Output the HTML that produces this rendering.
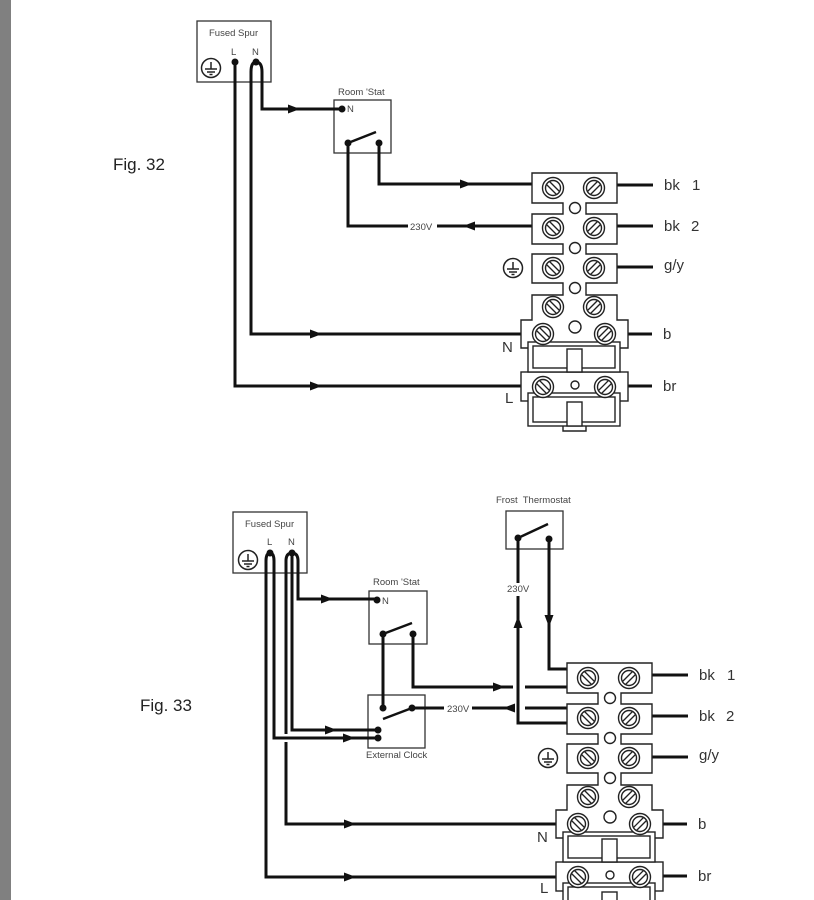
<!DOCTYPE html>
<html><head><meta charset="utf-8"><style>
html,body{margin:0;padding:0;background:#fff;}
svg{display:block}
text{font-family:"Liberation Sans",sans-serif;fill:#333}
.s{font-size:9.5px;fill:#444}
.b{font-size:15px;fill:#333}
.w{fill:none;stroke:#111;stroke-width:3;stroke-linejoin:miter}
.o{fill:#fff;stroke:#222;stroke-width:1.4}
.bx{fill:none;stroke:#333;stroke-width:1.3}
</style></head><body>
<svg width="814" height="900" viewBox="0 0 814 900" xmlns="http://www.w3.org/2000/svg">
<defs>
  <g id="scL">
    <circle r="10.5" fill="#fff" stroke="#222" stroke-width="1.4"/>
    <circle r="7.5" fill="none" stroke="#222" stroke-width="1.4"/>
    <line x1="-6.5" y1="-3.5" x2="3.5" y2="6.5" stroke="#222" stroke-width="1.3"/>
    <line x1="-3.5" y1="-6.5" x2="6.5" y2="3.5" stroke="#222" stroke-width="1.3"/>
  </g>
  <g id="scR">
    <circle r="10.5" fill="#fff" stroke="#222" stroke-width="1.4"/>
    <circle r="7.5" fill="none" stroke="#222" stroke-width="1.4"/>
    <line x1="6.5" y1="-3.5" x2="-3.5" y2="6.5" stroke="#222" stroke-width="1.3"/>
    <line x1="3.5" y1="-6.5" x2="-6.5" y2="3.5" stroke="#222" stroke-width="1.3"/>
  </g>
  <g id="earth">
    <circle r="9.5" fill="#fff" stroke="#222" stroke-width="1.5"/>
    <line x1="0" y1="-6" x2="0" y2="1" stroke="#222" stroke-width="1.5"/>
    <line x1="-6" y1="1" x2="6" y2="1" stroke="#222" stroke-width="1.5"/>
    <line x1="-4" y1="4" x2="4" y2="4" stroke="#222" stroke-width="1.5"/>
    <line x1="-1.5" y1="6.5" x2="1.5" y2="6.5" stroke="#222" stroke-width="1.5"/>
  </g>
  <g id="tb">
    <path class="w" d="M617,185 H653 M617,226 H653 M617,267 H653 M628,334 H652 M628,386 H652"/>
    <path class="o" d="M532,173 H617 V203 H586 V214 H617 V244 H586 V254 H617 V283 H586 V295 H617 V320 H628 V348 H521 V320 H532 V295 H563 V283 H532 V254 H563 V244 H532 V214 H563 V203 H532 Z"/>
    <rect class="o" x="521" y="372" width="107" height="29"/>
    <rect class="o" x="528" y="342" width="92" height="30"/>
    <rect class="o" x="533" y="346" width="82" height="22"/>
    <rect class="o" x="567" y="349" width="15" height="23"/>
    <path class="o" d="M563,424 V431 H586 V424"/>
    <rect class="o" x="528" y="393" width="92" height="33"/>
    <rect class="o" x="533" y="397" width="82" height="25"/>
    <rect class="o" x="567" y="402" width="15" height="24"/>
    <circle class="o" cx="575" cy="208" r="5.5"/>
    <circle class="o" cx="575" cy="248" r="5.5"/>
    <circle class="o" cx="575" cy="288" r="5.5"/>
    <circle class="o" cx="575" cy="327" r="6"/>
    <circle class="o" cx="575" cy="385" r="4"/>
    <use href="#scL" x="553" y="188"/><use href="#scR" x="594" y="188"/>
    <use href="#scL" x="553" y="228"/><use href="#scR" x="594" y="228"/>
    <use href="#scL" x="553" y="268"/><use href="#scR" x="594" y="268"/>
    <use href="#scL" x="553" y="307"/><use href="#scR" x="594" y="307"/>
    <use href="#scL" x="543" y="334"/><use href="#scR" x="605" y="334"/>
    <use href="#scL" x="543" y="387"/><use href="#scR" x="605" y="387"/>
    <use href="#earth" x="513" y="268"/>
    <text class="b" x="664" y="190">bk</text><text class="b" x="692" y="190">1</text>
    <text class="b" x="664" y="231">bk</text><text class="b" x="691" y="231">2</text>
    <text class="b" x="664" y="270">g/y</text>
    <text class="b" x="663" y="339">b</text>
    <text class="b" x="663" y="391">br</text>
    <text class="b" x="502" y="352">N</text>
    <text class="b" x="505" y="403">L</text>
  </g>
</defs>

<rect x="0" y="0" width="11" height="900" fill="#808080"/>

<!-- ===== Fig 32 ===== -->
<text x="113" y="170" style="font-size:17px;fill:#222">Fig. 32</text>

<rect class="bx" x="197" y="21" width="74" height="61"/>
<text class="s" x="209" y="36">Fused Spur</text>
<text class="s" x="231" y="55">L</text>
<text class="s" x="252" y="55">N</text>
<use href="#earth" x="211" y="68"/>

<rect class="bx" x="334" y="100" width="57" height="53"/>
<text class="s" x="338" y="95">Room 'Stat</text>
<text class="s" x="347" y="112">N</text>

<path class="w" d="M235,62 V386 H521"/>
<path class="w" d="M521,334 H251 V72 Q251,62 256,62 Q262,62 262,72 V109 H342"/>
<path class="w" d="M379,143 V184 H532"/>
<path class="w" d="M348,143 V226 H408 M437,226 H532"/>
<line x1="348" y1="143" x2="376" y2="132" stroke="#111" stroke-width="2.5"/>
<g fill="#111">
  <circle cx="235" cy="62" r="3.5"/><circle cx="256" cy="62" r="3.5"/>
  <circle cx="342" cy="109" r="3.5"/><circle cx="348" cy="143" r="3.5"/><circle cx="379" cy="143" r="3.5"/>
  <polygon points="300,109 288,104.5 288,113.5"/>
  <polygon points="472,184 460,179.5 460,188.5"/>
  <polygon points="463,226 475,221.5 475,230.5"/>
  <polygon points="322,334 310,329.5 310,338.5"/>
  <polygon points="322,386 310,381.5 310,390.5"/>
</g>
<text class="s" x="410" y="230">230V</text>

<use href="#tb"/>

<!-- ===== Fig 33 ===== -->
<text x="140" y="711" style="font-size:17px;fill:#222">Fig. 33</text>

<rect class="bx" x="233" y="512" width="74" height="61"/>
<text class="s" x="245" y="527">Fused Spur</text>
<text class="s" x="267" y="545">L</text>
<text class="s" x="288" y="545">N</text>
<use href="#earth" x="248" y="560"/>

<rect class="bx" x="369" y="591" width="58" height="53"/>
<text class="s" x="373" y="585">Room 'Stat</text>
<text class="s" x="382" y="604">N</text>

<rect class="bx" x="368" y="695" width="57" height="53"/>
<text class="s" x="366" y="758">External Clock</text>

<rect class="bx" x="506" y="511" width="57" height="38"/>
<text class="s" x="496" y="503">Frost&#160; Thermostat</text>

<path class="w" d="M556,877 H266 V561 Q266,553 270,553 Q274,553 274,561 V738 H378"/>
<path class="w" d="M556,824 H286 V742 M286,734 V561 Q286,553 292,553 Q298,553 298,561 V599 H377"/>
<path class="w" d="M292,553 V730 H378"/>
<path class="w" d="M413,634 V687 H513 M525,687 H567"/>
<path class="w" d="M383,634 V708"/>
<path class="w" d="M412,708 H444 M472,708 H513 M525,708 H567"/>
<path class="w" d="M518,538 V583 M518,596 V723 H567"/>
<path class="w" d="M549,539 V669 H567"/>
<line x1="383" y1="634" x2="412" y2="623" stroke="#111" stroke-width="2.5"/>
<line x1="383" y1="719" x2="412" y2="708" stroke="#111" stroke-width="2.5"/>
<line x1="518" y1="538" x2="548" y2="524" stroke="#111" stroke-width="2.5"/>
<g fill="#111">
  <circle cx="270" cy="553" r="3.5"/><circle cx="292" cy="553" r="3.5"/>
  <circle cx="377" cy="600" r="3.5"/><circle cx="383" cy="634" r="3.5"/><circle cx="413" cy="634" r="3.5"/>
  <circle cx="383" cy="708" r="3.5"/><circle cx="412" cy="708" r="3.5"/>
  <circle cx="378" cy="730" r="3.5"/><circle cx="378" cy="738" r="3.5"/>
  <circle cx="518" cy="538" r="3.5"/><circle cx="549" cy="539" r="3.5"/>
  <polygon points="333,599 321,594.5 321,603.5"/>
  <polygon points="337,730 325,725.5 325,734.5"/>
  <polygon points="355,738 343,733.5 343,742.5"/>
  <polygon points="505,687 493,682.5 493,691.5"/>
  <polygon points="503,708 515,703.5 515,712.5"/>
  <polygon points="549,627 544.5,615 553.5,615"/>
  <polygon points="518,616 513.5,628 522.5,628"/>
  <polygon points="356,824 344,819.5 344,828.5"/>
  <polygon points="356,877 344,872.5 344,881.5"/>
</g>
<text class="s" x="447" y="712">230V</text>
<text class="s" x="507" y="592">230V</text>

<use href="#tb" transform="translate(35,490)"/>
</svg>
</body></html>
